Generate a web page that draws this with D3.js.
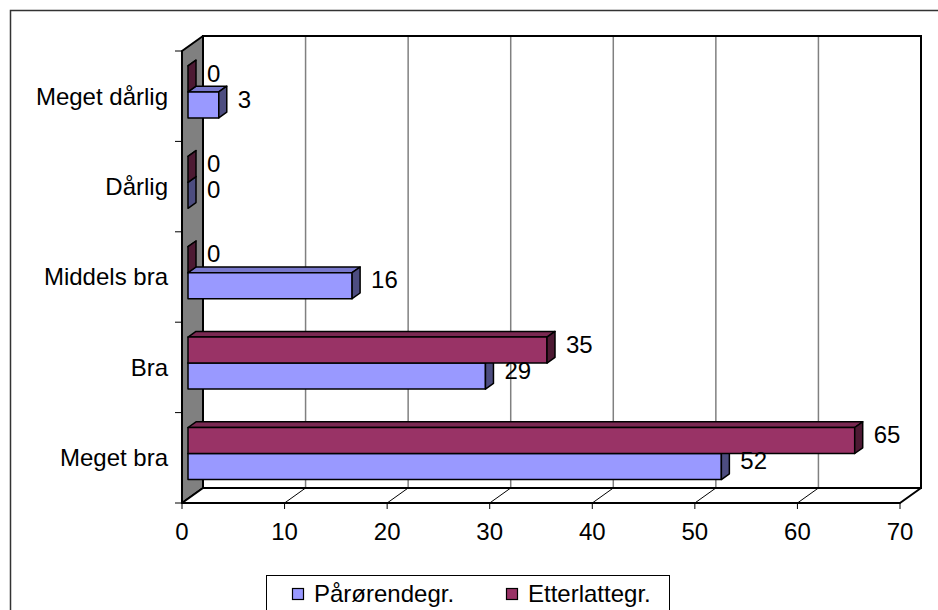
<!DOCTYPE html>
<html>
<head>
<meta charset="utf-8">
<script src="https://cdn.jsdelivr.net/npm/d3@7"></script>
<style>
  html, body { margin: 0; padding: 0; background: #fff; }
  svg { display: block; font-family: "Liberation Sans", Arial, sans-serif; }
</style>
</head>
<body>
<svg id="chart" width="938" height="610"></svg>
<script>
const categories = ["Meget dårlig", "Dårlig", "Middels bra", "Bra", "Meget bra"];
const seriesNames = ["Pårørendegr.", "Etterlattegr."];
const parorende = [3, 0, 16, 29, 52];
const etterlatte = [0, 0, 0, 35, 65];
const xTicks = [0, 10, 20, 30, 40, 50, 60, 70];

const colors = {
  "Pårørendegr.": { front: "#9999FF", top: "#7878CC", side: "#4D4D80" },
  "Etterlattegr.": { front: "#993366", top: "#7A2952", side: "#4D1A33" }
};
const FS = 24;

const svg = d3.select("#chart");

// outer chart-area border
svg.append("rect").attr("x", 10.5).attr("y", 10.5).attr("width", 940).attr("height", 620)
  .attr("fill", "none").attr("stroke", "#333").attr("stroke-width", 1.5);

const x = d3.scaleLinear().domain([0, 70]).range([182, 900]);
const y = d3.scaleBand().domain(categories).range([51, 503]);
const ySub = d3.scaleBand().domain(["Etterlattegr.", "Pårørendegr."]).range([0, y.bandwidth()]).paddingOuter(0.738);

const DX = 21, DY = 15;
const P = (px, py, z) => [px + z * DX, py - z * DY];
const pts = arr => arr.map(p => p.join(",")).join(" ");

const x0 = x(0), x1 = x(70), yTop = 51, yBot = 503;

// left side wall
svg.append("polygon")
  .attr("points", pts([P(x0, yTop, 0), P(x0, yTop, 1), P(x0, yBot, 1), P(x0, yBot, 0)]))
  .attr("fill", "#808080").attr("stroke", "#000").attr("stroke-width", 2).attr("stroke-linejoin", "round");

// back wall
svg.append("polygon")
  .attr("points", pts([P(x0, yTop, 1), P(x1, yTop, 1), P(x1, yBot, 1), P(x0, yBot, 1)]))
  .attr("fill", "#fff").attr("stroke", "none");

// gridlines on back wall
svg.append("g").selectAll("line").data(xTicks.slice(1, -1)).join("line")
  .attr("x1", d => P(x(d), yTop, 1)[0]).attr("x2", d => P(x(d), yTop, 1)[0])
  .attr("y1", P(0, yTop, 1)[1]).attr("y2", P(0, yBot, 1)[1])
  .attr("stroke", "#808080").attr("stroke-width", 1.5);

// back wall outline
svg.append("polygon")
  .attr("points", pts([P(x0, yTop, 1), P(x1, yTop, 1), P(x1, yBot, 1), P(x0, yBot, 1)]))
  .attr("fill", "none").attr("stroke", "#000").attr("stroke-width", 2);

// floor
svg.append("polygon")
  .attr("points", pts([P(x0, yBot, 0), P(x1, yBot, 0), P(x1, yBot, 1), P(x0, yBot, 1)]))
  .attr("fill", "#fff").attr("stroke", "#000").attr("stroke-width", 2).attr("stroke-linejoin", "round");

// floor diagonals
svg.append("g").selectAll("line").data(xTicks.slice(1, -1)).join("line")
  .attr("x1", d => P(x(d), yBot, 0)[0]).attr("y1", d => P(x(d), yBot, 0)[1])
  .attr("x2", d => P(x(d), yBot, 1)[0]).attr("y2", d => P(x(d), yBot, 1)[1])
  .attr("stroke", "#000").attr("stroke-width", 1);

// x-axis ticks & labels
const xAxis = svg.append("g");
xAxis.selectAll("line").data(xTicks).join("line")
  .attr("x1", d => x(d)).attr("x2", d => x(d)).attr("y1", yBot).attr("y2", yBot + 6)
  .attr("stroke", "#000").attr("stroke-width", 1);
xAxis.selectAll("text").data(xTicks).join("text")
  .attr("x", d => x(d)).attr("y", 540)
  .attr("text-anchor", "middle").attr("font-size", FS).attr("fill", "#000")
  .text(d => d);

// y-axis ticks & labels
const yBoundaries = categories.map(c => y(c)).concat([yBot]);
svg.append("g").selectAll("line").data(yBoundaries).join("line")
  .attr("x1", x0 - 7).attr("x2", x0).attr("y1", d => d).attr("y2", d => d)
  .attr("stroke", "#000").attr("stroke-width", 1);
svg.append("g").selectAll("text").data(categories).join("text")
  .attr("x", 168).attr("y", d => y(d) + y.bandwidth() / 2)
  .attr("dy", "0.35em")
  .attr("text-anchor", "end").attr("font-size", FS).attr("fill", "#000")
  .text(d => d);

// bars
const Z0 = 6 / 21, Z1 = 14 / 21;
const barData = [];
categories.forEach((c, i) => {
  barData.push({ cat: c, series: "Pårørendegr.", value: parorende[i] });
  barData.push({ cat: c, series: "Etterlattegr.", value: etterlatte[i] });
});

const barsG = svg.append("g");
barData.forEach(d => {
  const t = y(d.cat) + ySub(d.series);
  const b = t + ySub.bandwidth();
  const xs = x(0), xe = x(d.value);
  const col = colors[d.series];
  const g = barsG.append("g");
  g.append("polygon")
    .attr("points", pts([P(xs, t, Z0), P(xe, t, Z0), P(xe, t, Z1), P(xs, t, Z1)]))
    .attr("fill", col.top).attr("stroke", "#000").attr("stroke-width", 1.5).attr("stroke-linejoin", "round");
  if (d.value > 0) {
    g.append("polygon")
      .attr("points", pts([P(xs, t, Z0), P(xe, t, Z0), P(xe, b, Z0), P(xs, b, Z0)]))
      .attr("fill", col.front).attr("stroke", "#000").attr("stroke-width", 1.5).attr("stroke-linejoin", "round");
  }
  g.append("polygon")
    .attr("points", pts([P(xe, t, Z0), P(xe, t, Z1), P(xe, b, Z1), P(xe, b, Z0)]))
    .attr("fill", col.side).attr("stroke", "#000").attr("stroke-width", 1.5).attr("stroke-linejoin", "round");
});

// value labels
barsG.append("g").selectAll("text").data(barData).join("text")
  .attr("x", d => P(x(d.value), 0, Z1)[0] + 11)
  .attr("y", d => P(0, y(d.cat) + ySub(d.series) + ySub.bandwidth() / 2, Z1)[1])
  .attr("dy", "0.35em")
  .attr("font-size", FS).attr("fill", "#000")
  .text(d => d.value);

// legend
const legend = svg.append("g");
legend.append("rect").attr("x", 266.5).attr("y", 575.5).attr("width", 403).attr("height", 50)
  .attr("fill", "#fff").attr("stroke", "#000").attr("stroke-width", 1);
const legendX = [292, 506];
seriesNames.forEach((s, i) => {
  legend.append("rect").attr("x", legendX[i] + 0.5).attr("y", 588.5).attr("width", 11).attr("height", 11)
    .attr("fill", colors[s].front).attr("stroke", "#000").attr("stroke-width", 1.2);
  legend.append("text").attr("x", legendX[i] + 22).attr("y", 594).attr("dy", "0.35em")
    .attr("font-size", FS).attr("fill", "#000").text(s);
});
</script>
</body>
</html>
